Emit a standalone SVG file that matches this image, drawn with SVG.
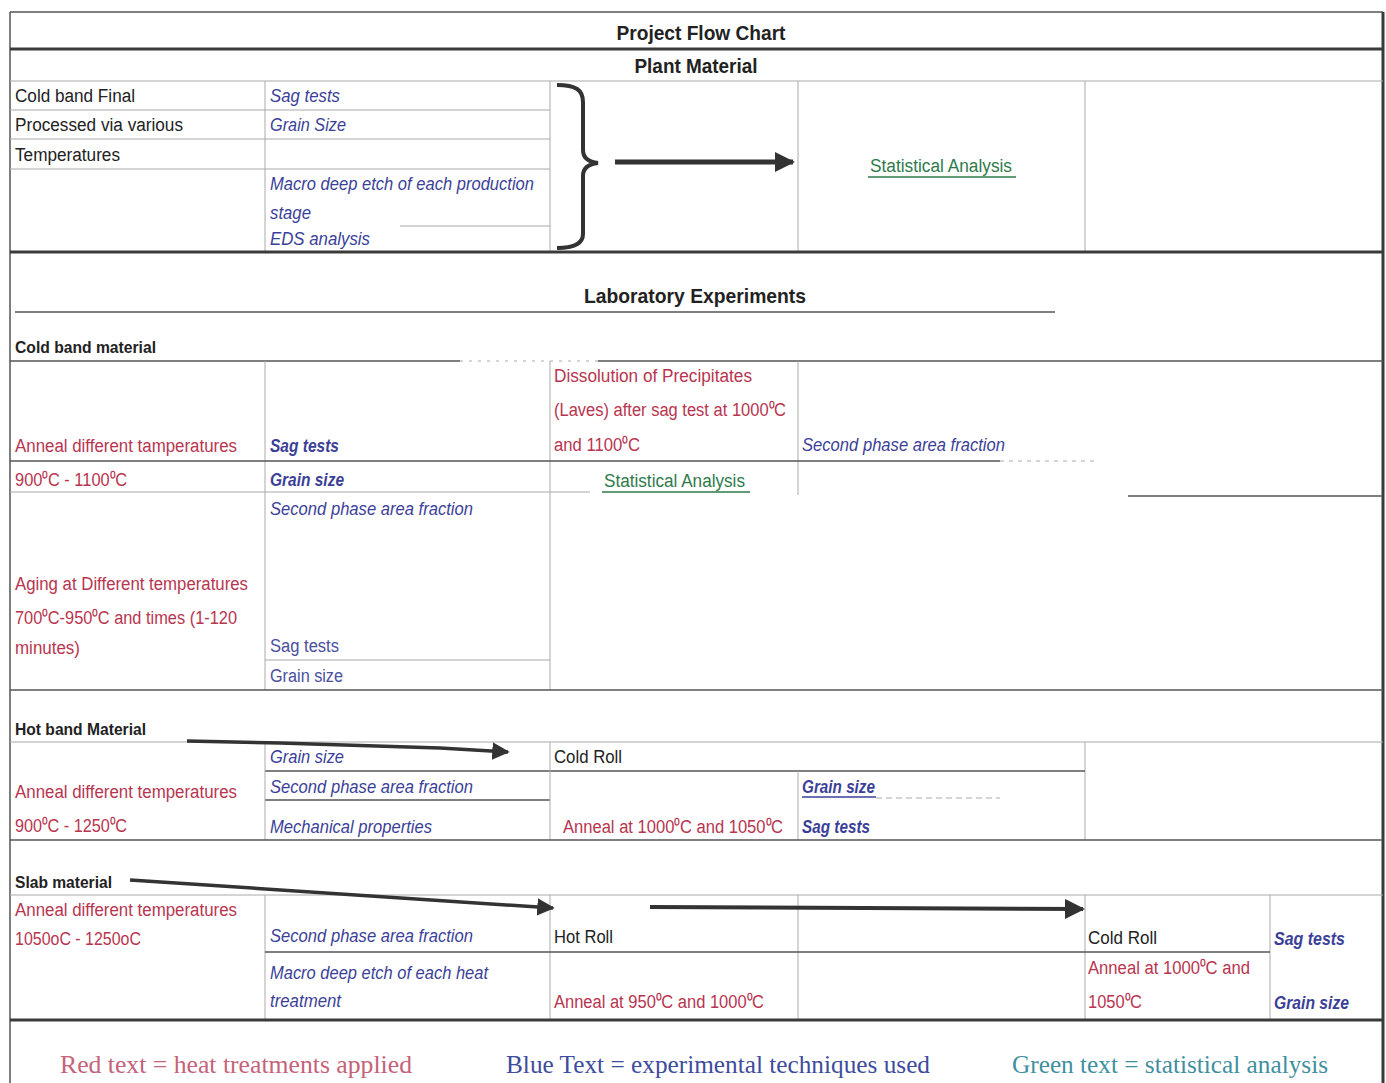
<svg xmlns="http://www.w3.org/2000/svg" width="1386" height="1083" viewBox="0 0 1386 1083">
<defs>
<marker id="ah" viewBox="0 0 10 10" refX="9" refY="5" markerWidth="4" markerHeight="4" orient="auto" markerUnits="strokeWidth">
<path d="M0,0 L10,5 L0,10 z" fill="#333"/>
</marker>
<marker id="ah2" viewBox="0 0 10 10" refX="9" refY="5" markerWidth="5" markerHeight="5" orient="auto" markerUnits="strokeWidth">
<path d="M0,0 L10,5 L0,10 z" fill="#333"/>
</marker>
</defs>
<style>
text{font-family:"Liberation Sans",Arial,sans-serif;font-size:18px}
.h{font-weight:bold;font-size:21px;fill:#222;text-anchor:middle}
.k{fill:#222}
.kb{fill:#222;font-weight:bold;font-size:17px}
.r{fill:#b8354f}
.b{fill:#3b3f98;font-style:italic}
.bn{fill:#4a4f9e}
.g{fill:#2f7a4c}
.lg{font-family:"Liberation Serif","Times New Roman",serif;font-size:25px}
.thick{stroke:#3a3a3a;stroke-width:3;fill:none}
.mid{stroke:#555;stroke-width:1.5;fill:none}
.thin{stroke:#aaa;stroke-width:1;fill:none}
.ul{stroke-width:1.5;fill:none}
.conn{stroke:#333;fill:none;stroke-linecap:butt}
</style>
<rect width="1386" height="1083" fill="#fff"/>

<g id="grid">
<line class="mid" x1="10" y1="12" x2="1383" y2="12"/>
<line class="mid" x1="10" y1="12" x2="10" y2="1083"/>
<line class="thick" x1="1383" y1="12" x2="1383" y2="1083"/>
<line class="thick" x1="10" y1="49" x2="1383" y2="49"/>
<line class="thin" x1="10" y1="81" x2="1383" y2="81"/>
<line class="thin" x1="10" y1="110" x2="550" y2="110"/>
<line class="thin" x1="10" y1="139" x2="550" y2="139"/>
<line class="thin" x1="10" y1="169" x2="550" y2="169"/>
<line class="thin" x1="400" y1="226" x2="550" y2="226"/>
<line class="thin" x1="265" y1="81" x2="265" y2="252"/>
<line class="thin" x1="550" y1="81" x2="550" y2="252"/>
<line class="thin" x1="798" y1="81" x2="798" y2="252"/>
<line class="thin" x1="1085" y1="81" x2="1085" y2="252"/>
<line class="thick" x1="10" y1="252" x2="1383" y2="252"/>

<line class="mid" x1="15" y1="312" x2="1055" y2="312"/>
<line class="mid" x1="10" y1="361" x2="460" y2="361"/>
<line class="thin" x1="460" y1="361" x2="598" y2="361" stroke-dasharray="3 6"/>
<line class="mid" x1="598" y1="361" x2="1383" y2="361"/>
<line class="thin" x1="265" y1="361" x2="265" y2="690"/>
<line class="thin" x1="550" y1="361" x2="550" y2="690"/>
<line class="thin" x1="798" y1="361" x2="798" y2="495"/>
<line class="mid" x1="10" y1="461" x2="1000" y2="461"/>
<line class="thin" x1="1000" y1="461" x2="1095" y2="461" stroke-dasharray="4 5"/>
<line class="thin" x1="10" y1="492" x2="590" y2="492"/>
<line class="mid" x1="1128" y1="496" x2="1383" y2="496"/>
<line class="thin" x1="265" y1="660" x2="550" y2="660"/>
<line class="mid" x1="10" y1="690" x2="1383" y2="690"/>

<line class="thin" x1="10" y1="742" x2="1383" y2="742"/>
<line class="thin" x1="1085" y1="742" x2="1085" y2="840"/>
<line class="mid" x1="265" y1="771" x2="1085" y2="771"/>
<line class="mid" x1="265" y1="800" x2="550" y2="800"/>
<line class="thin" x1="876" y1="798" x2="1000" y2="798" stroke-dasharray="6 4"/>
<line class="thin" x1="265" y1="742" x2="265" y2="840"/>
<line class="thin" x1="550" y1="742" x2="550" y2="840"/>
<line class="thin" x1="798" y1="771" x2="798" y2="840"/>
<line class="mid" x1="10" y1="840" x2="1383" y2="840"/>

<line class="thin" x1="10" y1="895" x2="1383" y2="895"/>
<line class="thin" x1="265" y1="895" x2="265" y2="1020"/>
<line class="thin" x1="550" y1="895" x2="550" y2="1020"/>
<line class="thin" x1="798" y1="895" x2="798" y2="1020"/>
<line class="thin" x1="1085" y1="895" x2="1085" y2="1020"/>
<line class="thin" x1="1270" y1="895" x2="1270" y2="1020"/>
<line class="mid" x1="265" y1="952" x2="1270" y2="952"/>
<line class="thick" x1="10" y1="1020" x2="1383" y2="1020"/>
</g>

<g id="title">
<text class="h" x="701" y="40" textLength="169" lengthAdjust="spacingAndGlyphs">Project Flow Chart</text>
</g>
<g id="plant-header">
<text class="h" x="696" y="73" textLength="123" lengthAdjust="spacingAndGlyphs">Plant Material</text>
</g>
<g id="plant-material">
<text class="k" x="15" y="102" textLength="120" lengthAdjust="spacingAndGlyphs">Cold band Final</text>
<text class="k" x="15" y="131" textLength="168" lengthAdjust="spacingAndGlyphs">Processed via various</text>
<text class="k" x="15" y="161" textLength="105" lengthAdjust="spacingAndGlyphs">Temperatures</text>
</g>
<g id="plant-techniques">
<text class="b" x="270" y="102" textLength="70" lengthAdjust="spacingAndGlyphs">Sag tests</text>
<text class="b" x="270" y="131" textLength="76" lengthAdjust="spacingAndGlyphs">Grain Size</text>
<text class="b" x="270" y="190" textLength="264" lengthAdjust="spacingAndGlyphs">Macro deep etch of each production</text>
<text class="b" x="270" y="219" textLength="41" lengthAdjust="spacingAndGlyphs">stage</text>
<text class="b" x="270" y="245" textLength="100" lengthAdjust="spacingAndGlyphs">EDS analysis</text>
</g>
<g id="plant-stats">
<text class="g" x="870" y="172" textLength="142" lengthAdjust="spacingAndGlyphs">Statistical Analysis</text>
<line class="ul" stroke="#2f7a4c" x1="868" y1="177" x2="1016" y2="177"/>
</g>

<g id="lab-header">
<text class="h" x="695" y="303" textLength="222" lengthAdjust="spacingAndGlyphs">Laboratory Experiments</text>
</g>
<g id="cold-band">
<text class="kb" x="15" y="353" textLength="141" lengthAdjust="spacingAndGlyphs">Cold band material</text>
</g>
<g id="cb-anneal">
<text class="r" x="15" y="452" textLength="222" lengthAdjust="spacingAndGlyphs">Anneal different tamperatures</text>
<text class="r" x="15" y="486" textLength="112" lengthAdjust="spacingAndGlyphs">900⁰C - 1100⁰C</text>
</g>
<g id="cb-anneal-tech">
<text class="b" x="270" y="452" font-weight="bold" textLength="69" lengthAdjust="spacingAndGlyphs">Sag tests</text>
<text class="b" x="270" y="486" font-weight="bold" textLength="74" lengthAdjust="spacingAndGlyphs">Grain size</text>
<text class="b" x="270" y="515" textLength="203" lengthAdjust="spacingAndGlyphs">Second phase area fraction</text>
</g>
<g id="cb-dissolution">
<text class="r" x="554" y="382" textLength="198" lengthAdjust="spacingAndGlyphs">Dissolution of Precipitates</text>
<text class="r" x="554" y="416" textLength="232" lengthAdjust="spacingAndGlyphs">(Laves) after sag test at 1000⁰C</text>
<text class="r" x="554" y="451" textLength="86" lengthAdjust="spacingAndGlyphs">and 1100⁰C</text>
</g>
<g id="cb-dissolution-tech">
<text class="b" x="802" y="451" textLength="203" lengthAdjust="spacingAndGlyphs">Second phase area fraction</text>
</g>
<g id="cb-stats">
<text class="g" x="604" y="487" textLength="141" lengthAdjust="spacingAndGlyphs">Statistical Analysis</text>
<line class="ul" stroke="#2f7a4c" x1="602" y1="492" x2="750" y2="492"/>
</g>
<g id="cb-aging">
<text class="r" x="15" y="590" textLength="233" lengthAdjust="spacingAndGlyphs">Aging at Different temperatures</text>
<text class="r" x="15" y="624" textLength="222" lengthAdjust="spacingAndGlyphs">700⁰C-950⁰C and times (1-120</text>
<text class="r" x="15" y="654" textLength="65" lengthAdjust="spacingAndGlyphs">minutes)</text>
</g>
<g id="cb-aging-tech">
<text class="bn" x="270" y="652" textLength="69" lengthAdjust="spacingAndGlyphs">Sag tests</text>
<text class="bn" x="270" y="682" textLength="73" lengthAdjust="spacingAndGlyphs">Grain size</text>
</g>

<g id="hot-band">
<text class="kb" x="15" y="735" textLength="131" lengthAdjust="spacingAndGlyphs">Hot band Material</text>
</g>
<g id="hb-anneal">
<text class="r" x="15" y="798" textLength="222" lengthAdjust="spacingAndGlyphs">Anneal different temperatures</text>
<text class="r" x="15" y="832" textLength="112" lengthAdjust="spacingAndGlyphs">900⁰C - 1250⁰C</text>
</g>
<g id="hb-tech">
<text class="b" x="270" y="763" textLength="74" lengthAdjust="spacingAndGlyphs">Grain size</text>
<text class="b" x="270" y="793" textLength="203" lengthAdjust="spacingAndGlyphs">Second phase area fraction</text>
<text class="b" x="270" y="833" textLength="162" lengthAdjust="spacingAndGlyphs">Mechanical properties</text>
</g>
<g id="hb-coldroll">
<text class="k" x="554" y="763" textLength="68" lengthAdjust="spacingAndGlyphs">Cold Roll</text>
<text class="r" x="563" y="833" textLength="220" lengthAdjust="spacingAndGlyphs">Anneal at 1000⁰C and 1050⁰C</text>
</g>
<g id="hb-coldroll-tech">
<text class="b" x="802" y="793" font-weight="bold" textLength="73" lengthAdjust="spacingAndGlyphs">Grain size</text>
<line class="ul" stroke="#3b3f98" x1="802" y1="797" x2="876" y2="797"/>
<text class="b" x="802" y="833" font-weight="bold" textLength="68" lengthAdjust="spacingAndGlyphs">Sag tests</text>
</g>

<g id="slab">
<text class="kb" x="15" y="888" textLength="97" lengthAdjust="spacingAndGlyphs">Slab material</text>
</g>
<g id="slab-anneal">
<text class="r" x="15" y="916" textLength="222" lengthAdjust="spacingAndGlyphs">Anneal different temperatures</text>
<text class="r" x="15" y="945" textLength="126" lengthAdjust="spacingAndGlyphs">1050oC - 1250oC</text>
</g>
<g id="slab-tech">
<text class="b" x="270" y="942" textLength="203" lengthAdjust="spacingAndGlyphs">Second phase area fraction</text>
<text class="b" x="270" y="979" textLength="218" lengthAdjust="spacingAndGlyphs">Macro deep etch of each heat</text>
<text class="b" x="270" y="1007" textLength="71" lengthAdjust="spacingAndGlyphs">treatment</text>
</g>
<g id="slab-hotroll">
<text class="k" x="554" y="943" textLength="59" lengthAdjust="spacingAndGlyphs">Hot Roll</text>
<text class="r" x="554" y="1008" textLength="210" lengthAdjust="spacingAndGlyphs">Anneal at 950⁰C and 1000⁰C</text>
</g>
<g id="slab-coldroll">
<text class="k" x="1088" y="944" textLength="69" lengthAdjust="spacingAndGlyphs">Cold Roll</text>
<text class="r" x="1088" y="974" textLength="162" lengthAdjust="spacingAndGlyphs">Anneal at 1000⁰C and</text>
<text class="r" x="1088" y="1008" textLength="54" lengthAdjust="spacingAndGlyphs">1050⁰C</text>
</g>
<g id="slab-coldroll-tech">
<text class="b" x="1274" y="945" font-weight="bold" textLength="71" lengthAdjust="spacingAndGlyphs">Sag tests</text>
<text class="b" x="1274" y="1009" font-weight="bold" textLength="75" lengthAdjust="spacingAndGlyphs">Grain size</text>
</g>

<g id="legend">
<text class="lg" x="60" y="1073" fill="#c4637a" textLength="352" lengthAdjust="spacingAndGlyphs">Red  text = heat treatments applied</text>
<text class="lg" x="506" y="1073" fill="#3d4c9c" textLength="424" lengthAdjust="spacingAndGlyphs">Blue Text = experimental techniques used</text>
<text class="lg" x="1012" y="1073" fill="#3f8fa0" textLength="316" lengthAdjust="spacingAndGlyphs">Green text = statistical analysis</text>
</g>

<g id="connectors">
<path class="conn" stroke-width="4" d="M557,85 C576,85 583,90 583,102 L583,150 C583,158 588,162 598,163 C588,164 583,168 583,176 L583,234 C583,243 576,248 557,248"/>
<line class="conn" stroke-width="5" x1="615" y1="162" x2="793" y2="162" marker-end="url(#ah)"/>
<polyline class="conn" stroke-width="3.5" points="187,741 280,743 440,748 508,752" marker-end="url(#ah2)"/>
<line class="conn" stroke-width="3.5" x1="130" y1="880" x2="553" y2="908" marker-end="url(#ah2)"/>
<line class="conn" stroke-width="4" x1="650" y1="907" x2="1083" y2="909" marker-end="url(#ah2)"/>
</g>
</svg>
